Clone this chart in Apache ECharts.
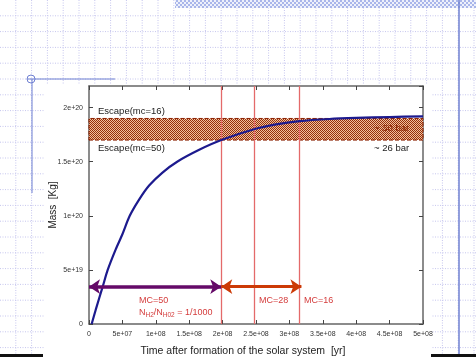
<!DOCTYPE html>
<html><head><meta charset="utf-8">
<script src="https://cdn.jsdelivr.net/npm/echarts@6/dist/echarts.min.js"></script>
<style>html,body{margin:0;padding:0;background:#fff}#c{width:476px;height:357px}</style>
</head><body><div id="c"></div>
<script>
// ---- data ----
const timeYr = [4e6, 1e7, 2.05e7, 2.8e7, 4e7, 5e7, 6.1e7, 7.5e7, 9e7, 1.1e8, 1.32e8, 1.65e8, 1.98e8, 2.47e8, 2.8e8, 3.15e8, 3.6e8, 4e8, 4.5e8, 5e8];
const massKg = [0, 1.3e19, 3.45e19, 5e19, 6.9e19, 8.3e19, 1e20, 1.15e20, 1.28e20, 1.4e20, 1.5e20, 1.61e20, 1.7e20, 1.8e20, 1.845e20, 1.875e20, 1.895e20, 1.905e20, 1.913e20, 1.92e20];
const mcLines = [1.98e8, 2.47e8, 3.15e8];
const escapeBand = [1.7e20, 1.9e20];
const arrowY = 3.45e19;
const arrowPurple = [0, 1.98e8];
const arrowOrange = [1.98e8, 3.18e8];
const xTickLabels = ['0','5e+07','1e+08','1.5e+08','2e+08','2.5e+08','3e+08','3.5e+08','4e+08','4.5e+08','5e+08'];
const yTickLabels = ['0','5e+19','1e+20','1.5e+20','2e+20'];

function checker(c1, c2, s) {
  const cv = document.createElement('canvas');
  cv.width = cv.height = s * 2;
  const g = cv.getContext('2d');
  g.fillStyle = c2; g.fillRect(0, 0, s * 2, s * 2);
  g.fillStyle = c1; g.fillRect(0, 0, s, s); g.fillRect(s, s, s, s);
  return cv;
}
const bandPattern = { image: checker('#93300c', '#f3bf9c', 1), repeat: 'repeat' };
const topPattern = { image: checker('#a9b6ea', '#eef1fb', 2), repeat: 'repeat' };

// ---- decoration ----
const deco = [];
const step = 15.8;
for (let k = 1; k * step < 357; k++) {
  deco.push({ type: 'line', z: -10, silent: true, shape: { x1: 0, y1: k * step, x2: 476, y2: k * step },
    style: { stroke: '#c6c6ee', lineWidth: 1, lineDash: [1, 1.5] } });
}
for (let k = 1; k * step < 476; k++) {
  deco.push({ type: 'line', z: -10, silent: true, shape: { x1: k * step, y1: 0, x2: k * step, y2: 357 },
    style: { stroke: '#c6c6ee', lineWidth: 1, lineDash: [1, 1.5] } });
}
deco.push({ type: 'rect', z: -5, silent: true, shape: { x: 44, y: 84, width: 388, height: 273 }, style: { fill: '#fff' } });
deco.push({ type: 'rect', z: -4, silent: true, shape: { x: 175, y: 0, width: 301, height: 8 }, style: { fill: topPattern } });
deco.push({ type: 'line', z: -4, silent: true, shape: { x1: 459, y1: 0, x2: 459, y2: 357 }, style: { stroke: '#6f80d2', lineWidth: 1.5 } });
deco.push({ type: 'line', z: -4, silent: true, shape: { x1: 27, y1: 79, x2: 115, y2: 79 }, style: { stroke: '#6f80d2', lineWidth: 1 } });
deco.push({ type: 'line', z: -4, silent: true, shape: { x1: 32, y1: 79, x2: 32, y2: 193 }, style: { stroke: '#6f80d2', lineWidth: 1 } });
deco.push({ type: 'circle', z: -4, silent: true, shape: { cx: 31, cy: 79, r: 4 }, style: { fill: 'none', stroke: '#6f80d2', lineWidth: 1 } });
deco.push({ type: 'rect', z: -4, silent: true, shape: { x: 0, y: 354, width: 43, height: 3 }, style: { fill: '#111' } });
deco.push({ type: 'rect', z: -4, silent: true, shape: { x: 431, y: 354, width: 45, height: 3 }, style: { fill: '#111' } });

const F = 'Liberation Sans, Arial, sans-serif';
function txt(t, x, y, size, color, extra) {
  return Object.assign({ type: 'text', z: 50, silent: true, x: x, y: y,
    style: { text: t, font: size + 'px ' + F, fill: color, align: 'left', verticalAlign: 'middle' } }, extra || {});
}
deco.push(txt('Escape(mc=16)', 98, 111, 9.5, '#222'));
deco.push(txt('Escape(mc=50)', 98, 148, 9.5, '#222'));
deco.push(txt('~ 30 bar', 374, 128, 9.5, '#8b2200'));
deco.push(txt('~ 26 bar', 374, 148, 9.5, '#222'));
deco.push(txt('MC=50', 139, 301, 9, '#d43c3c'));
deco.push({ type: 'text', z: 50, silent: true, x: 139, y: 313,
  style: { text: '{n|N}{s|H2}{n|/N}{s|H02}{n| = 1/1000}', fill: '#d43c3c', align: 'left', verticalAlign: 'middle',
    rich: { n: { font: '9px ' + F, fill: '#d43c3c', lineHeight: 11, verticalAlign: 'middle' },
            s: { font: '6.5px ' + F, fill: '#d43c3c', lineHeight: 11, verticalAlign: 'bottom' } } } });
deco.push(txt('MC=28', 259, 301, 9, '#d43c3c'));
deco.push(txt('MC=16', 304, 301, 9, '#d43c3c'));
deco.push(txt('Mass  [Kg]', 53, 205, 10, '#222', { rotation: Math.PI / 2, style: { text: 'Mass  [Kg]', font: '10px ' + F, fill: '#222', align: 'center', verticalAlign: 'middle' } }));
deco.push(txt('Time after formation of the solar system  [yr]', 243, 351, 10.5, '#222', { style: { text: 'Time after formation of the solar system  [yr]', font: '10.5px ' + F, fill: '#222', align: 'center', verticalAlign: 'middle' } }));

const chart = echarts.init(document.getElementById('c'), null, { renderer: 'canvas' });
const axisLineStyle = { color: '#666', width: 1.5 };
chart.setOption({
  animation: false,
  backgroundColor: 'transparent',
  grid: { left: 89, right: 53, top: 86, bottom: 33 },
  xAxis: [
    { type: 'value', min: 0, max: 5e8, interval: 5e7, splitLine: { show: false },
      axisLine: { onZero: false, lineStyle: axisLineStyle }, axisTick: { inside: true, length: 4, lineStyle: { color: '#444' } },
      axisLabel: { fontSize: 7, color: '#333', fontFamily: F, margin: 7, formatter: v => xTickLabels[Math.round(v / 5e7)] } },
    { type: 'value', position: 'top', min: 0, max: 5e8, interval: 5e7, splitLine: { show: false },
      axisLine: { show: true, onZero: false, lineStyle: axisLineStyle }, axisTick: { show: true, inside: true, length: 4, lineStyle: { color: '#444' } }, axisLabel: { show: false } }
  ],
  yAxis: [
    { type: 'value', min: 0, max: 2.2e20, interval: 5e19, splitLine: { show: false },
      axisLine: { show: true, onZero: false, lineStyle: axisLineStyle }, axisTick: { show: true, inside: true, length: 4, lineStyle: { color: '#444' } },
      axisLabel: { fontSize: 7, color: '#333', fontFamily: F, margin: 6, showMaxLabel: false,
        formatter: v => { const i = Math.round(v / 5e19); return Math.abs(v - i * 5e19) < 1e17 ? yTickLabels[i] : ''; } } },
    { type: 'value', position: 'right', min: 0, max: 2.2e20, interval: 5e19, splitLine: { show: false },
      axisLine: { show: true, onZero: false, lineStyle: axisLineStyle }, axisTick: { show: true, inside: true, length: 4, lineStyle: { color: '#444' } }, axisLabel: { show: false } }
  ],
  graphic: deco,
  series: [
    { type: 'line', name: 'mass', smooth: 0.3, showSymbol: false, z: 5,
      data: timeYr.map((t, i) => [t, massKg[i]]),
      lineStyle: { color: '#1c1a8e', width: 2.2 },
      markArea: { silent: true, z: 1,
        itemStyle: { color: bandPattern, borderColor: '#8b2000', borderWidth: 1, borderType: 'dashed' },
        data: [[{ yAxis: escapeBand[0] }, { yAxis: escapeBand[1] }]] },
      markLine: { silent: true, symbol: 'none', label: { show: false },
        lineStyle: { color: '#e46a6a', width: 1.3, type: 'solid' },
        data: mcLines.map(v => ({ xAxis: v })) } },
    { type: 'lines', coordinateSystem: 'cartesian2d', z: 6, symbol: ['arrow', 'arrow'], symbolSize: 11,
      lineStyle: { color: '#650a68', width: 3.5, opacity: 1, curveness: 0 },
      data: [{ coords: [[arrowPurple[0], arrowY], [arrowPurple[1], arrowY]] }] },
    { type: 'lines', coordinateSystem: 'cartesian2d', z: 6, symbol: ['arrow', 'arrow'], symbolSize: 11,
      lineStyle: { color: '#cc3a06', width: 3, opacity: 1, curveness: 0 },
      data: [{ coords: [[arrowOrange[0], arrowY], [arrowOrange[1], arrowY]] }] }
  ]
});
</script>
</body></html>
